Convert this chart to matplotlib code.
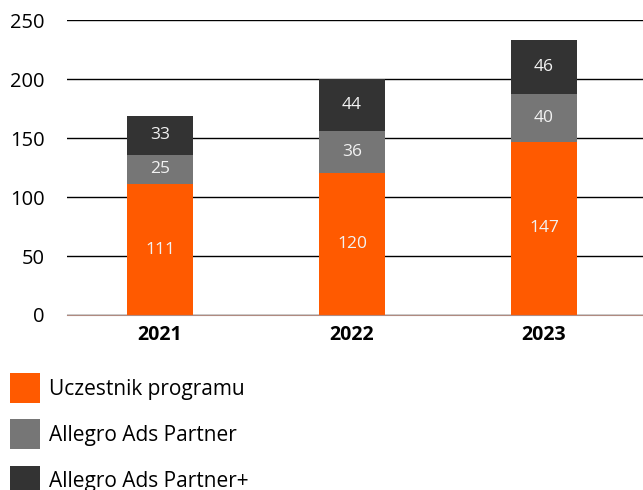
import numpy as np
import matplotlib.pyplot as plt
from matplotlib.patches import Patch

plt.rcParams['font.family'] = ['Open Sans', 'DejaVu Sans']

years = ['2021', '2022', '2023']
uczestnik = [111, 120, 147]
ads_partner = [25, 36, 40]
ads_partner_plus = [33, 44, 46]

labels = ['Uczestnik programu', 'Allegro Ads Partner', 'Allegro Ads Partner+']
colors = ['#FF5A00', '#767676', '#333333']

fig = plt.figure(figsize=(6.43, 4.9), dpi=100)
ax = fig.add_axes([67/643, 175/490, 576/643, 295/490])

x = np.arange(len(years))
w = 0.344
bottom = np.zeros(len(years))
for vals, col in zip([uczestnik, ads_partner, ads_partner_plus], colors):
    bars = ax.bar(x, vals, w, bottom=bottom, color=col, zorder=3)
    ax.bar_label(bars, labels=[str(v) for v in vals], label_type='center',
                 color='#f2f2f2', fontsize=12.5)
    bottom += np.array(vals)

ax.set_ylim(0, 250)
ax.set_xlim(-0.484, 2.516)
ax.set_yticks([0, 50, 100, 150, 200, 250])
ax.set_xticks(x)
ax.set_xticklabels(years, fontweight='bold', fontsize=14)
ax.tick_params(axis='y', length=0, pad=16, labelsize=14.5)
ax.tick_params(axis='x', length=0, pad=7)
ax.yaxis.grid(True, color='black', linewidth=1, zorder=0)
ax.set_axisbelow(True)
for s in ['top', 'right', 'left']:
    ax.spines[s].set_visible(False)
ax.spines['bottom'].set_color('#b08a80')
ax.spines['bottom'].set_zorder(4)

handles = [Patch(facecolor=c, edgecolor='none') for c in colors]
fig.legend(handles, labels, loc='upper left', bbox_to_anchor=(10/643, 1 - 373/490),
           frameon=False, fontsize=15, handlelength=1.44, handleheight=1.84,
           labelspacing=0.78, handletextpad=0.43, borderpad=0, borderaxespad=0)

fig.savefig('out.png', dpi=100)
